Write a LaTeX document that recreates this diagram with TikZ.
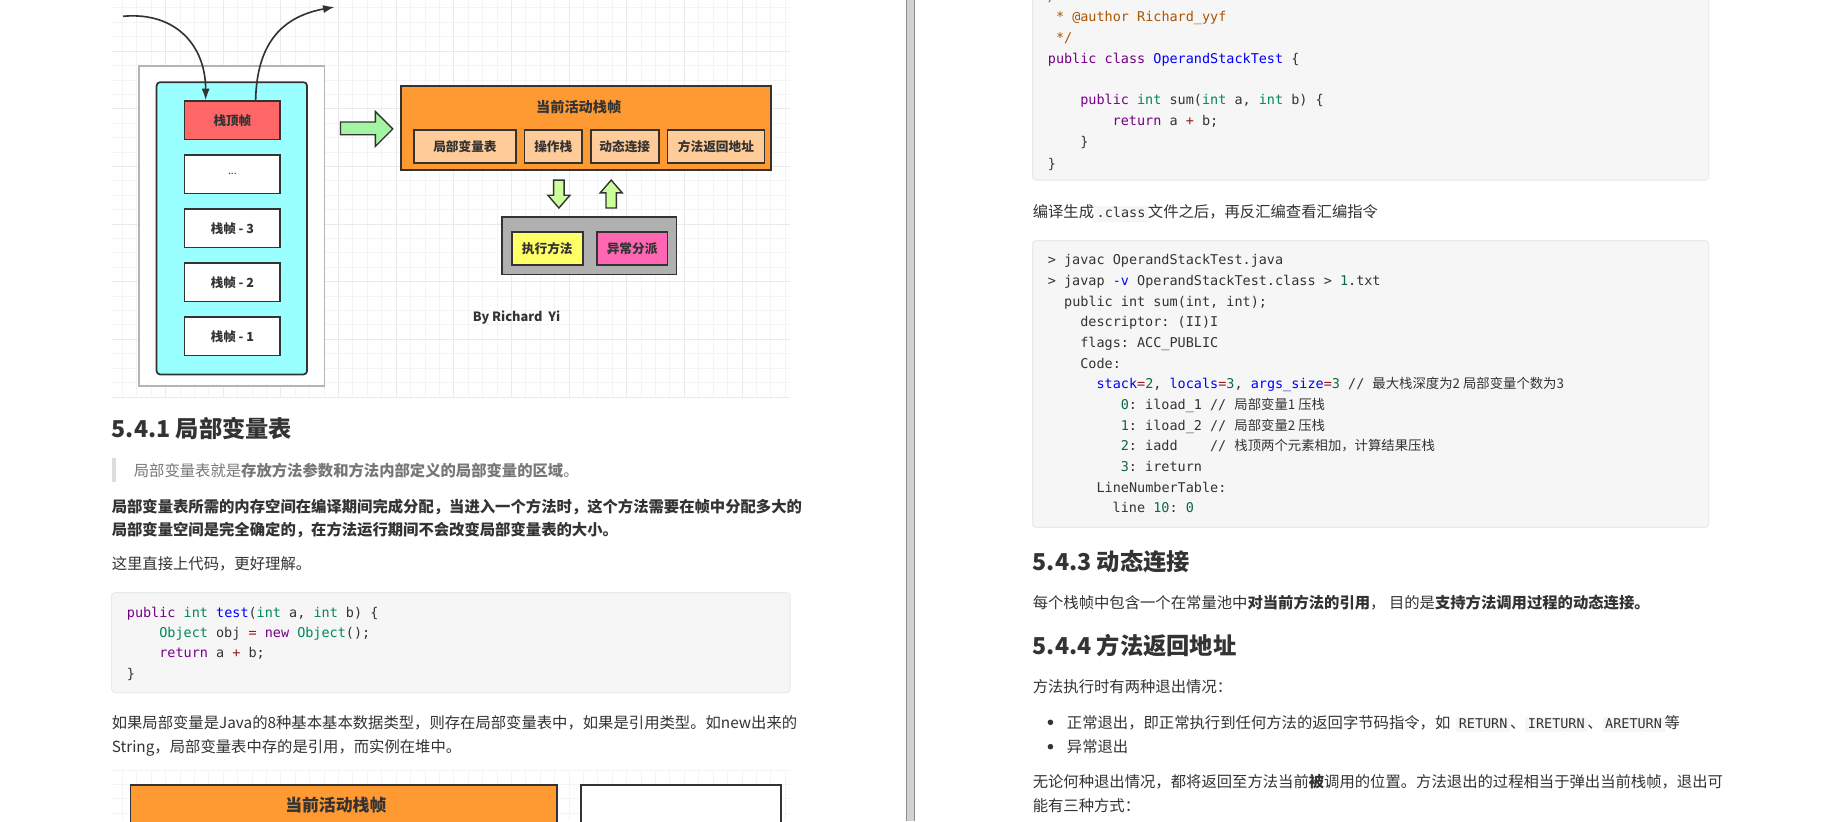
\documentclass[tikz,border=0pt]{standalone}
\usepackage{fontspec}
\setmainfont{Noto Sans CJK SC}
\setmonofont{DejaVu Sans Mono}
\usepackage{xcolor}
\usetikzlibrary{shapes,arrows.meta,positioning}

\definecolor{txt}{HTML}{333333}
\definecolor{edge}{HTML}{333333}
\definecolor{quotetxt}{HTML}{777777}
\definecolor{quotebar}{HTML}{DDDDDD}
\definecolor{codebg}{HTML}{F6F6F6}
\definecolor{codeedge}{HTML}{E9E9E9}
\definecolor{gridminor}{HTML}{F4F4F4}
\definecolor{gridmajor}{HTML}{EAEAEA}
\definecolor{outergray}{HTML}{B4B4B4}
\definecolor{cyanbox}{HTML}{99FFFF}
\definecolor{topred}{HTML}{FF6666}
\definecolor{orangebox}{HTML}{FF9A33}
\definecolor{peach}{HTML}{FFCC99}
\definecolor{grayzone}{HTML}{B0B0B0}
\definecolor{yellowbox}{HTML}{FFFF66}
\definecolor{pinkbox}{HTML}{FF66B3}
\definecolor{greenarrow}{HTML}{A3F5A3}
\definecolor{limearrow}{HTML}{CCFF99}
\definecolor{divfill}{HTML}{D2D2D2}
\definecolor{divedge}{HTML}{8C8C8C}
\definecolor{kwpurple}{HTML}{770088}
\definecolor{typeteal}{HTML}{008855}
\definecolor{defblue}{HTML}{0000FF}
\definecolor{oprred}{HTML}{981A1A}
\definecolor{numgreen}{HTML}{116644}
\definecolor{cmtorange}{HTML}{AA5500}

% code colouring
\newcommand{\ckw}[1]{\textcolor{kwpurple}{#1}}
\newcommand{\cty}[1]{\textcolor{typeteal}{#1}}
\newcommand{\cfn}[1]{\textcolor{defblue}{#1}}
\newcommand{\cop}[1]{\textcolor{oprred}{#1}}
\newcommand{\cnum}[1]{\textcolor{numgreen}{#1}}
\newcommand{\ccom}[1]{\textcolor{cmtorange}{#1}}
\newcommand{\ccjk}[1]{{\rmfamily\fontsize{11.5}{14}\selectfont #1}}
\newcommand{\icode}[1]{{\setlength{\fboxsep}{1.2pt}\colorbox{codebg}{\hspace{1pt}\ttfamily\fontsize{11.6}{14}\selectfont #1\vphantom{Ag}\hspace{1pt}}}}

\tikzstyle{outerbox} = [rectangle, draw=outergray, line width=1.5pt, fill=white, inner sep=0pt]
\tikzstyle{stackbox} = [rectangle, rounded corners=3pt, draw=edge, line width=1.5pt, fill=cyanbox, inner sep=0pt]
\tikzstyle{stackframe} = [rectangle, draw=edge, line width=1.5pt, fill=white, text=txt, font=\bfseries\fontsize{10.8}{13}\selectfont, minimum width=82.5pt, minimum height=33pt, inner sep=0pt]
\tikzstyle{holder} = [rectangle, draw=edge, line width=1.5pt, inner sep=0pt]
\tikzstyle{slot} = [rectangle, draw=edge, line width=1.5pt, fill=peach, text=txt, font=\bfseries\fontsize{10.9}{13}\selectfont, minimum height=28.5pt, inner sep=0pt]
\tikzstyle{task} = [slot, minimum width=61pt]
\tikzstyle{boxtitle} = [draw=none, fill=none, text=txt, font=\bfseries\fontsize{12.2}{14}\selectfont]
\tikzstyle{blockarrow} = [draw=edge, line width=1.2pt, line join=miter]
\tikzstyle{tedge} = [draw=edge, line width=1.4pt, >={Latex[length=10pt,width=7pt]}, ->]
\tikzstyle{bodytext} = [anchor=base west, inner sep=0pt, text=txt, font=\fontsize{13.2}{20}\selectfont]
\tikzstyle{boldtext} = [bodytext, font=\bfseries\fontsize{13.2}{20}\selectfont]
\tikzstyle{heading} = [bodytext, font=\bfseries\fontsize{20}{24}\selectfont]
\tikzstyle{codeline} = [anchor=base west, inner sep=0pt, text=txt, font=\ttfamily\fontsize{11.6}{14}\selectfont]
\tikzstyle{codebox} = [draw=codeedge, fill=codebg, rounded corners=3pt, line width=0.8pt]

\begin{document}
\begin{tikzpicture}[x=1pt, y=-1pt]
\useasboundingbox (0,0) rectangle (1568,706.55);
\clip (0,0) rectangle (1568,706.55);
\fill[white] (0,0) rectangle (1568,706.55);

% grid behind the upper figure ==========
\foreach \gx in {105.3,117.7,...,680}
  \draw[gridminor, line width=0.7pt] (\gx,0) -- (\gx,341.6);
\foreach \gy in {6.8,19.2,...,341}
  \draw[gridminor, line width=0.7pt] (96,\gy) -- (680,\gy);
\foreach \gx in {142.5,192.1,...,640}
  \draw[gridmajor, line width=0.7pt] (\gx,0) -- (\gx,341.6);
\foreach \gy in {44,93.6,...,300}
  \draw[gridmajor, line width=0.7pt] (96,\gy) -- (680,\gy);
\draw[gridmajor, line width=0.7pt] (96,341.6) -- (680,341.6);

% stack of frames ==========
\node[outerbox, minimum width=159.5pt, minimum height=275.5pt] (stackouter) at (199.5,194.5) {};
\node[stackbox, minimum width=129.5pt, minimum height=251.5pt] (stackinner) at (199.5,196.5) {};
\node[stackframe, fill=topred] (top) at (200,103.5) {栈顶帧};
\node[stackframe, below=12pt of top, font=\fontsize{9}{11}\selectfont] (dots) {...};
\node[stackframe, below=12pt of dots] (frame3) {栈帧 - 3};
\node[stackframe, below=12pt of frame3] (frame2) {栈帧 - 2};
\node[stackframe, below=12pt of frame2] (frame1) {栈帧 - 1};

% push / pop
\coordinate (pushin) at (106,14);
\coordinate (popout) at (288,6);
\path[tedge] (pushin) .. controls (152,10) and (177,40) .. ([xshift=-23pt]top.north);
\path[tedge] ([xshift=20pt]top.north) .. controls (221,36) and (244,14) .. (popout);

% current frame ==========
\fill[greenarrow, blockarrow] (293,105) -- (323,105) -- (323,96) -- (338,111) -- (323,126) -- (323,116) -- (293,116) -- cycle;

\node[holder, fill=orangebox, minimum width=318pt, minimum height=72pt] (current) at (504.25,110.25) {};
\node[boxtitle] (currenttitle) at (498,92) {当前活动栈帧};
\node[slot, minimum width=87.5pt] (locals) at (400.15,126) {局部变量表};
\node[slot, minimum width=49.5pt, right=6pt of locals] (operand) {操作栈};
\node[slot, minimum width=58.5pt, right=6pt of operand] (dynlink) {动态连接};
\node[slot, minimum width=83.5pt, right=6pt of dynlink] (retaddr) {方法返回地址};

\fill[limearrow, blockarrow] (476.5,155) -- (485.5,155) -- (485.5,168) -- (490.5,168) -- (481,179) -- (471.5,168) -- (476.5,168) -- cycle;
\fill[limearrow, blockarrow] (521.5,179) -- (530.5,179) -- (530.5,166) -- (535.5,166) -- (526,155) -- (516.5,166) -- (521.5,166) -- cycle;

\node[holder, fill=grayzone, minimum width=150.5pt, minimum height=49.5pt] (engine) at (507,211.5) {};
\node[task, fill=yellowbox] (exec) at (471,214) {执行方法};
\node[task, fill=pinkbox, right=10.5pt of exec] (dispatch) {异常分派};

\node[anchor=base west, inner sep=0pt, text=txt, font=\bfseries\fontsize{11}{13}\selectfont] (byline) at (406.8,277) {By Richard\ \ Yi};

% left page text ==========
\node[heading] (h541) at (96,376.6) {5.4.1 局部变量表};
\fill[quotebar] (96,394) rectangle (100,415);
\node[bodytext, text=quotetxt] (quote) at (115,410) {局部变量表就是\textbf{存放方法参数和方法内部定义的局部变量的区域}。};
\node[boldtext] (para1a) at (96,441) {局部变量表所需的内存空间在编译期间完成分配，当进入一个方法时，这个方法需要在帧中分配多大的};
\node[boldtext] (para1b) at (96,461) {局部变量空间是完全确定的，在方法运行期间不会改变局部变量表的大小。};
\node[bodytext] (para2) at (96,490.5) {这里直接上代码，更好理解。};

\draw[codebox] (96,510) rectangle (680,596);
\node[codeline] (lc1) at (109,531) {\ckw{public} \cty{int} \cfn{test}(\cty{int} a, \cty{int} b) \{};
\node[codeline] (lc2) at (136.9,548.5) {\cty{Object} obj \cop{=} \ckw{new} \cty{Object}();};
\node[codeline] (lc3) at (136.9,566) {\ckw{return} a \cop{+} b;};
\node[codeline] (lc4) at (109,584) {\}};

\node[bodytext] (para3a) at (96,627) {如果局部变量是Java的8种基本基本数据类型，则存在局部变量表中，如果是引用类型。如new出来的};
\node[bodytext] (para3b) at (96,648) {String，局部变量表中存的是引用，而实例在堆中。};

% grid behind the lower figure
\foreach \gx in {105.3,117.7,...,680}
  \draw[gridminor, line width=0.7pt] (\gx,662.7) -- (\gx,706.55);
\foreach \gy in {662.7,675.1,...,706}
  \draw[gridminor, line width=0.7pt] (96,\gy) -- (680,\gy);
\node[holder, fill=orangebox, anchor=north west, minimum width=367pt, minimum height=90pt] (current2) at (111.5,674.5) {};
\node[boxtitle, font=\bfseries\fontsize{14.5}{17}\selectfont] (currenttitle2) at (289,693) {当前活动栈帧};
\node[holder, fill=white, anchor=north west, minimum width=172pt, minimum height=90pt] (other2) at (499.5,674.5) {};

% page gap
\fill[divfill] (780,0) rectangle (786.6,706.55);
\draw[divedge, line width=0.8pt] (780,0) -- (780,706.55) (786.6,0) -- (786.6,706.55);

% right page text ==========
\draw[codebox] (888.6,-5) rectangle (1470.6,155);
\node[codeline] (rc0) at (901.6,1) {\ccom{/**}};
\node[codeline] (rc1) at (908.6,18.9) {\ccom{* @author Richard\_yyf}};
\node[codeline] (rc2) at (908.6,36.4) {\ccom{*/}};
\node[codeline] (rc3) at (901.6,54.8) {\ckw{public} \ckw{class} \cfn{OperandStackTest} \{};
\node[codeline] (rc4) at (929.5,90) {\ckw{public} \cty{int} sum(\cty{int} a, \cty{int} b) \{};
\node[codeline] (rc5) at (957.4,107.8) {\ckw{return} a \cop{+} b;};
\node[codeline] (rc6) at (929.5,126) {\}};
\node[codeline] (rc7) at (901.6,144.6) {\}};

\node[bodytext] (para4) at (888.6,187) {编译生成\icode{.class}文件之后，再反汇编查看汇编指令};

\draw[codebox] (888.6,207) rectangle (1470.6,453.8);
\node[codeline] (dc1) at (901.6,227.8) {> javac OperandStackTest.java};
\node[codeline] (dc2) at (901.6,245.6) {> javap \cfn{-v} OperandStackTest.class > \cnum{1}.txt};
\node[codeline] (dc3) at (915.6,263.4) {public int sum(int, int);};
\node[codeline] (dc4) at (929.5,281.2) {descriptor: (II)I};
\node[codeline] (dc5) at (929.5,299) {flags: ACC\_PUBLIC};
\node[codeline] (dc6) at (929.5,316.8) {Code:};
\node[codeline] (dc7) at (943.5,334.6) {\cfn{stack}\cop{=}\cnum{2}, \cfn{locals}\cop{=}\cnum{3}, \cfn{args\_size}\cop{=}\cnum{3} // \ccjk{最大栈深度为2\ 局部变量个数为3}};
\node[codeline] (dc8) at (964.4,352.4) {\cnum{0}: iload\_1 // \ccjk{局部变量1\ 压栈}};
\node[codeline] (dc9) at (964.4,370.2) {\cnum{1}: iload\_2 // \ccjk{局部变量2\ 压栈}};
\node[codeline] (dc10) at (964.4,388) {\cnum{2}: iadd\ \ \ \ // \ccjk{栈顶两个元素相加，计算结果压栈}};
\node[codeline] (dc11) at (964.4,405.8) {\cnum{3}: ireturn};
\node[codeline] (dc12) at (943.5,423.6) {LineNumberTable:};
\node[codeline] (dc13) at (957.4,441.4) {line \cnum{10}: \cnum{0}};

\node[heading] (h543) at (888.6,491) {5.4.3 动态连接};
\node[bodytext] (para5) at (888.6,524) {每个栈帧中包含一个在常量池中\textbf{对当前方法的引用}， 目的是\textbf{支持方法调用过程的动态连接。}};
\node[heading] (h544) at (888.6,563.6) {5.4.4 方法返回地址};
\node[bodytext] (para6) at (888.6,596) {方法执行时有两种退出情况：};
\fill[txt] (904,621.6) circle (2.4pt);
\node[bodytext] (item1) at (918,626.6) {正常退出，即正常执行到任何方法的返回字节码指令，如\hspace{5pt}\icode{RETURN}、\icode{IRETURN}、\icode{ARETURN}等};
\fill[txt] (904,642.6) circle (2.4pt);
\node[bodytext] (item2) at (918,647.6) {异常退出};
\node[bodytext] (para7a) at (888.6,678) {无论何种退出情况，都将返回至方法当前\textbf{被}调用的位置。方法退出的过程相当于弹出当前栈帧，退出可};
\node[bodytext] (para7b) at (888.6,698.4) {能有三种方式：};

\end{tikzpicture}
\end{document}
